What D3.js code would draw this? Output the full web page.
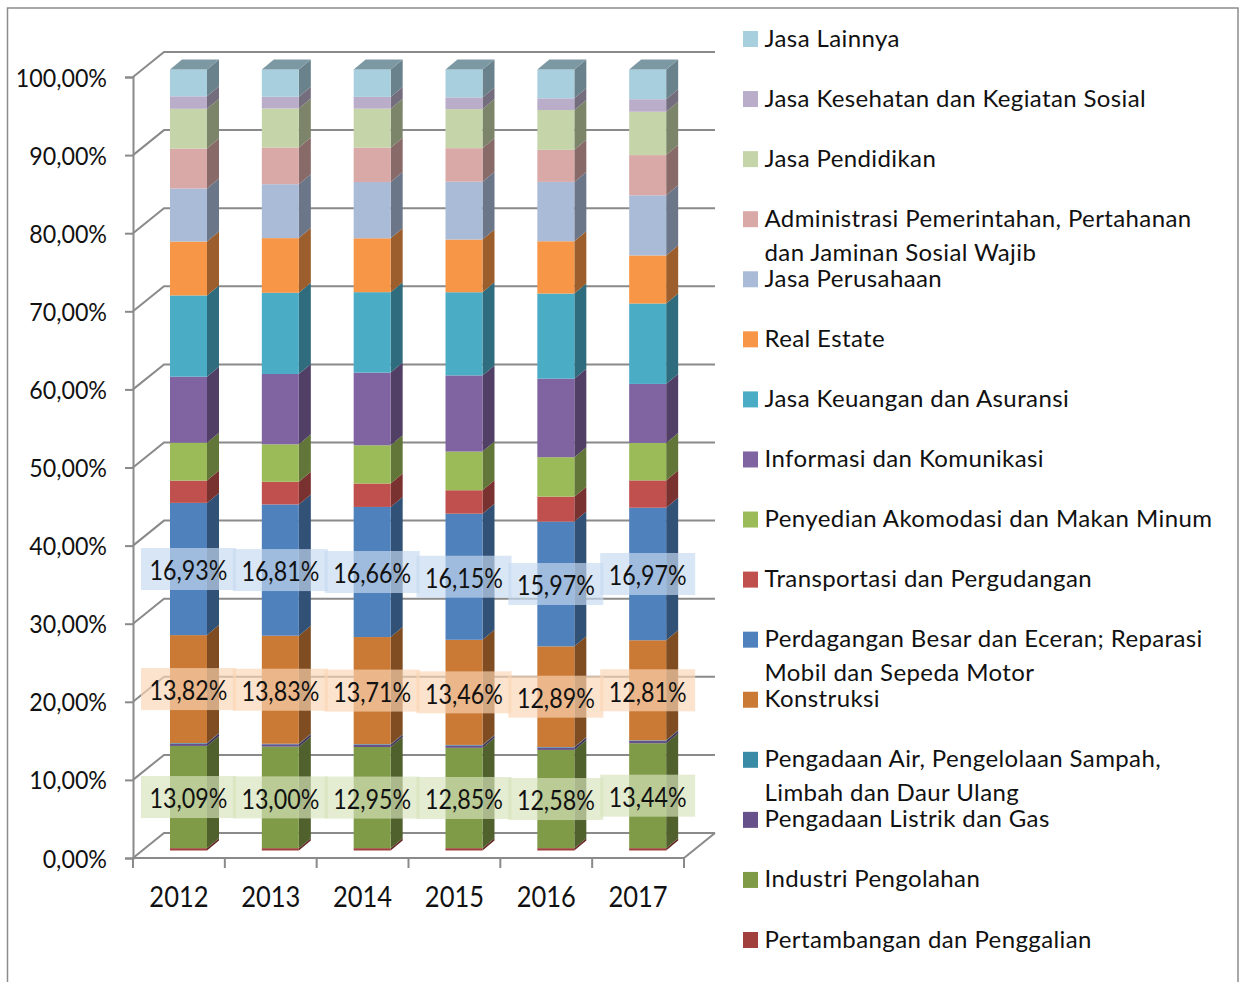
<!DOCTYPE html>
<html>
<head>
<meta charset="utf-8">
<script src="https://cdn.jsdelivr.net/npm/d3@7/dist/d3.min.js"></script>
<style>
html, body { margin: 0; padding: 0; background: #fff; overflow: hidden; }
svg { display: block; }
text { font-family: Lato, sans-serif; fill: #111; }
</style>
</head>
<body>
<div id="svg_area"></div>
<script>
var years = ["2012", "2013", "2014", "2015", "2016", "2017"];

// shares per sector, bottom of the stack first
var pertambangan = [0.30, 0.30, 0.30, 0.30, 0.30, 0.30];
var industri = [13.09, 13.00, 12.95, 12.85, 12.58, 13.44];
var listrik = [0.30, 0.30, 0.30, 0.30, 0.30, 0.30];
var air = [0.07, 0.07, 0.07, 0.07, 0.07, 0.07];
var konstruksi = [13.82, 13.83, 13.71, 13.46, 12.89, 12.81];
var perdagangan = [16.93, 16.81, 16.66, 16.15, 15.97, 16.97];
var transportasi = [2.85, 2.90, 3.00, 3.00, 3.20, 3.50];
var akomodasi = [4.86, 4.80, 4.90, 4.95, 5.05, 4.80];
var informasi = [8.45, 9.00, 9.30, 9.75, 10.05, 7.55];
var keuangan = [10.40, 10.40, 10.30, 10.65, 10.90, 10.30];
var realEstate = [6.90, 7.00, 6.90, 6.75, 6.70, 6.15];
var perusahaan = [6.80, 6.90, 7.20, 7.40, 7.60, 7.70];
var administrasi = [5.10, 4.70, 4.40, 4.30, 4.10, 5.15];
var pendidikan = [5.10, 5.00, 5.00, 5.00, 5.10, 5.55];
var kesehatan = [1.60, 1.50, 1.50, 1.50, 1.50, 1.60];
var lainnya = [3.43, 3.49, 3.51, 3.57, 3.69, 3.81];

var seriesValues = [pertambangan, industri, listrik, air, konstruksi, perdagangan, transportasi, akomodasi,
    informasi, keuangan, realEstate, perusahaan, administrasi, pendidikan, kesehatan, lainnya];

var seriesNames = [
    ["Pertambangan dan Penggalian"],
    ["Industri Pengolahan"],
    ["Pengadaan Listrik dan Gas"],
    ["Pengadaan Air, Pengelolaan Sampah,", "Limbah dan Daur Ulang"],
    ["Konstruksi"],
    ["Perdagangan Besar dan Eceran; Reparasi", "Mobil dan Sepeda Motor"],
    ["Transportasi dan Pergudangan"],
    ["Penyedian Akomodasi dan Makan Minum"],
    ["Informasi dan Komunikasi"],
    ["Jasa Keuangan dan Asuransi"],
    ["Real Estate"],
    ["Jasa Perusahaan"],
    ["Administrasi Pemerintahan, Pertahanan", "dan Jaminan Sosial Wajib"],
    ["Jasa Pendidikan"],
    ["Jasa Kesehatan dan Kegiatan Sosial"],
    ["Jasa Lainnya"]
];

var seriesColors = ["#a03f3c", "#7f9b48", "#67518a", "#3a8ba5", "#ca7a35", "#4f81bd", "#c0504d", "#9bbb59",
    "#8064a2", "#4bacc6", "#f79646", "#aabbd8", "#d9a9a7", "#c5d4a9", "#b9adc9", "#a8cfdd"];

// series that carry a label box, with the box colour
var labelled = [
    { index: 1, fill: "#d7e3bc" },
    { index: 4, fill: "#fbd5b5" },
    { index: 5, fill: "#c6d9f0" }
];

var width = 1239, height = 982;
var gridColor = "#8a8a8a";

// 3d offsets of the back wall and of one bar
var wallX = 31, wallY = -25;
var barDepthX = 12, barDepthY = -10;
var barInsetX = 37, barWidth = 37, barShiftY = -7.5;

var svg = d3.select("#svg_area").append("svg")
    .attr("width", width)
    .attr("height", height);

// outer frame, cut off at the bottom
svg.append("path")
    .attr("d", "M7.5,982V8H1238V982")
    .attr("fill", "none")
    .attr("stroke", "#8c8c8c")
    .attr("stroke-width", 1.5);

var x = d3.scaleBand().domain(years).range([133, 684]);
var y = d3.scaleLinear().domain([0, 100]).range([858, 77]);

var locale = d3.formatLocale({ decimal: ",", thousands: ".", grouping: [3], currency: ["", ""] });
var tickFormat = locale.format(".2f");
var percent = function (v) { return tickFormat(v) + "%"; };

// fit a text to a share of its natural width, the original font is narrower
function fit(sel, factor, adjust) {
    sel.each(function () {
        var len = this.getComputedTextLength();
        d3.select(this)
            .attr("textLength", len * factor)
            .attr("lengthAdjust", adjust);
    });
}

// walls: gridlines run along the back and down the left side
var gridTicks = d3.range(0, 101, 10);
var grid = svg.append("g")
    .attr("fill", "none")
    .attr("stroke", gridColor)
    .attr("stroke-width", 2);

grid.selectAll(".grid")
    .data(gridTicks)
    .enter().append("path")
    .attr("class", "grid")
    .attr("d", function (d) {
        var p = y(d);
        return "M133," + p + "L" + (133 + wallX) + "," + (p + wallY) + "H" + (684 + wallX);
    });

// floor edge on the right
grid.append("path")
    .attr("d", "M684," + y(0) + "L" + (684 + wallX) + "," + (y(0) + wallY));

// y axis
var yAxis = d3.axisLeft(y)
    .tickValues(gridTicks)
    .tickSize(8)
    .tickPadding(18)
    .tickFormat(percent);

var yG = svg.append("g")
    .attr("transform", "translate(133,0)")
    .call(yAxis);
yG.selectAll("line").attr("stroke", gridColor).attr("stroke-width", 2);
yG.select(".domain").attr("stroke", gridColor).attr("stroke-width", 2);
yG.selectAll("text").attr("y", 1).style("font-size", "25px").style("fill", "#111");

// x axis, ticks sit on the band edges
var xAxis = d3.axisBottom(x).tickSize(0).tickPadding(29);
var xG = svg.append("g")
    .attr("transform", "translate(0," + y(0) + ")")
    .call(xAxis);
xG.select(".domain").remove();
xG.selectAll("text").style("font-size", "28px").style("fill", "#111");

svg.append("g")
    .selectAll("line")
    .data(years.map(function (d) { return x(d); }).concat([x.range()[1]]))
    .enter().append("line")
    .attr("x1", function (d) { return d; })
    .attr("x2", function (d) { return d; })
    .attr("y1", y(0))
    .attr("y2", y(0) + 10)
    .attr("stroke", gridColor)
    .attr("stroke-width", 2);

svg.append("line")
    .attr("x1", 133).attr("x2", 684)
    .attr("y1", y(0)).attr("y2", y(0))
    .attr("stroke", gridColor)
    .attr("stroke-width", 2);

// stack, 100% like the original
var rows = years.map(function (year, i) {
    var row = { year: year };
    seriesValues.forEach(function (values, s) { row[s] = values[i]; });
    return row;
});

var stacked = d3.stack()
    .keys(d3.range(seriesValues.length))
    .offset(d3.stackOffsetExpand)(rows);

function yLow(d) { return y(d[0] * 100) + barShiftY; }
function yHigh(d) { return y(d[1] * 100) + barShiftY; }
function barLeft(d) { return x(d.data.year) + barInsetX; }

var layers = svg.append("g")
    .selectAll("g")
    .data(stacked)
    .enter().append("g");

// side faces
layers.selectAll(".side")
    .data(function (s) { return s; })
    .enter().append("path")
    .attr("class", "side")
    .attr("fill", function () {
        var s = d3.select(this.parentNode).datum().key;
        return d3.rgb(seriesColors[s]).darker(1.3);
    })
    .attr("d", function (d) {
        var r = barLeft(d) + barWidth;
        return "M" + r + "," + yLow(d) + "V" + yHigh(d)
            + "L" + (r + barDepthX) + "," + (yHigh(d) + barDepthY)
            + "V" + (yLow(d) + barDepthY) + "Z";
    });

// front faces
layers.selectAll(".front")
    .data(function (s) { return s; })
    .enter().append("rect")
    .attr("class", "front")
    .attr("fill", function () {
        return seriesColors[d3.select(this.parentNode).datum().key];
    })
    .attr("x", barLeft)
    .attr("y", yHigh)
    .attr("width", barWidth)
    .attr("height", function (d) { return yLow(d) - yHigh(d); });

// top face of each bar
var topLayer = stacked[stacked.length - 1];
svg.append("g")
    .selectAll("path")
    .data(topLayer)
    .enter().append("path")
    .attr("fill", d3.rgb(seriesColors[topLayer.key]).darker(0.85))
    .attr("d", function (d) {
        var l = barLeft(d), t = yHigh(d);
        return "M" + l + "," + t + "H" + (l + barWidth)
            + "l" + barDepthX + "," + barDepthY
            + "H" + (l + barDepthX) + "Z";
    });

// data labels with their boxes
labelled.forEach(function (item) {
    var g = svg.append("g")
        .selectAll("g")
        .data(stacked[item.index])
        .enter().append("g")
        .attr("transform", function (d) {
            return "translate(" + (barLeft(d) + barWidth / 2) + "," + (yLow(d) + yHigh(d)) / 2 + ")";
        });

    g.append("rect")
        .attr("x", -47.5)
        .attr("y", -21)
        .attr("width", 95)
        .attr("height", 42)
        .attr("fill", item.fill)
        .attr("fill-opacity", 0.67);

    var labels = g.append("text")
        .attr("text-anchor", "middle")
        .attr("y", 2)
        .attr("dy", "0.36em")
        .style("font-size", "26px")
        .text(function (d) { return percent(d.data[item.index]); });

    fit(labels, 0.895, "spacingAndGlyphs");
});

// legend, top entry is the last series
var legendOrder = d3.range(seriesNames.length).reverse();
var legendY = d3.scalePoint().domain(legendOrder).range([39, 940]);

var legend = svg.append("g")
    .selectAll("g")
    .data(legendOrder)
    .enter().append("g")
    .attr("transform", function (d) { return "translate(743," + legendY(d) + ")"; });

legend.append("rect")
    .attr("y", -8)
    .attr("width", 15)
    .attr("height", 16)
    .attr("fill", function (d) { return seriesColors[d]; });

legend.selectAll("text")
    .data(function (d) { return seriesNames[d]; })
    .enter().append("text")
    .attr("x", 21.5)
    .attr("y", function (d, i) { return 7.5 + i * 34; })
    .style("font-size", "24px")
    .text(function (d) { return d; });

fit(legend.selectAll("text"), 1.033, "spacing");
fit(yG.selectAll("text"), 0.93, "spacingAndGlyphs");
fit(xG.selectAll("text"), 0.91, "spacingAndGlyphs");
</script>
</body>
</html>
